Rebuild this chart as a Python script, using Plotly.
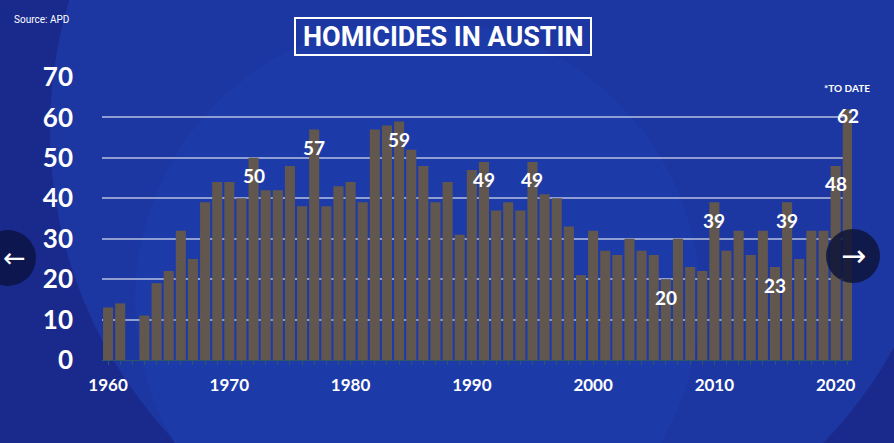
import plotly.graph_objects as go

# Austin homicides per year (APD); 1962 missing in the source graphic
years = list(range(1960, 2022))
homicides = [13, 14, None, 11, 19, 22, 32, 25, 39, 44,
             44, 40, 50, 42, 42, 48, 38, 57, 38, 43,
             44, 39, 57, 58, 59, 52, 48, 39, 44, 31,
             47, 49, 37, 39, 37, 49, 41, 40, 33, 21,
             32, 27, 26, 30, 27, 26, 20, 30, 23, 22,
             39, 27, 32, 26, 32, 23, 39, 25, 32, 32,
             48, 62]
label_years = [1972, 1977, 1984, 1991, 1995, 2006, 2010, 2015, 2016, 2020, 2021]
y_ticks = [0, 10, 20, 30, 40, 50, 60, 70]
x_ticks = [1960, 1970, 1980, 1990, 2000, 2010, 2020]

FONT = "Lato"
BG = "#1a2a8c"

# plot area in pixels, used to place the decorations
L, R, T, B = 102, 852, 77, 360
W, H = 894, 443


def px(x):
    return (x - L) / (R - L)


def py(y):
    return (B - y) / (B - T)


fig = go.Figure()
fig.add_trace(go.Bar(x=years, y=homicides, marker=dict(color="#61574f", line=dict(width=0)),
                     hoverinfo="x+y"))

lookup = dict(zip(years, homicides))
for yr in label_years:
    fig.add_annotation(x=yr, y=lookup[yr], text="%d" % lookup[yr], showarrow=False,
                       yshift=-6 if yr == 2021 else -18,
                       font=dict(family=FONT, size=19, color="white", weight="bold"))

shapes = [
    # background circles
    dict(type="circle", xref="paper", yref="paper", layer="below",
         x0=px(50), x1=px(950), y0=py(580), y1=py(-320),
         fillcolor="#1c37a2", line=dict(width=0)),
    dict(type="circle", xref="paper", yref="paper", layer="below",
         x0=px(135), x1=px(700), y0=py(580), y1=py(20),
         fillcolor="#1d3ba8", line=dict(width=0)),
    # title box
    dict(type="rect", xref="paper", yref="paper",
         x0=px(295), x1=px(591), y0=py(55), y1=py(18),
         line=dict(color="white", width=2)),
    # carousel buttons
    dict(type="circle", xref="paper", yref="paper", layer="above",
         x0=px(-20), x1=px(36), y0=py(286), y1=py(230),
         fillcolor="#0e1650", line=dict(width=0)),
    dict(type="circle", xref="paper", yref="paper", layer="above",
         x0=px(826), x1=px(880), y0=py(283), y1=py(229),
         fillcolor="rgba(12,18,55,0.82)", line=dict(width=0)),
]


def note(x, y, text, size, family=FONT, xanchor="center", bold=True):
    fig.add_annotation(xref="paper", yref="paper", x=px(x), y=py(y), text=text,
                       xanchor=xanchor, yanchor="middle", showarrow=False,
                       font=dict(family=family, size=size, color="white",
                                 weight="bold" if bold else "normal"))


note(443, 37, "HOMICIDES IN AUSTIN", 27, family="Roboto")
note(12, 19, "Source: APD", 10, family="Roboto", xanchor="left", bold=False)
note(872, 88, "*TO DATE", 10, xanchor="right")
note(1, 257, "\u2190", 27, family="DejaVu Sans", xanchor="left", bold=False)
note(853, 255, "\u2192", 30, family="DejaVu Sans", bold=False)

fig.update_layout(
    width=W, height=H, autosize=False,
    margin=dict(l=L, r=W - R, t=T, b=H - B),
    paper_bgcolor=BG, plot_bgcolor="rgba(0,0,0,0)",
    bargap=0.17, showlegend=False,
    shapes=shapes,
    xaxis=dict(range=[1959.5, 2021.35], tickvals=x_ticks, showgrid=False, zeroline=False,
               showline=True, linecolor="#2f5566", linewidth=1,
               ticks="", ticklabelstandoff=10,
               minor=dict(dtick=1, tick0=1960, ticks="outside", ticklen=4, tickcolor="#2f5566", showgrid=False),
               tickfont=dict(family=FONT, size=17, color="white", weight="bold")),
    yaxis=dict(range=[0, 70], tickvals=y_ticks, showgrid=True, gridcolor="rgba(220,225,240,0.6)",
               gridwidth=1.5, zeroline=False, ticklabelstandoff=28,
               tickfont=dict(family=FONT, size=26, color="white", weight="bold")),
)

fig.write_html("out.html", config={"displayModeBar": False},
               post_script="document.body.style.margin='0';")
